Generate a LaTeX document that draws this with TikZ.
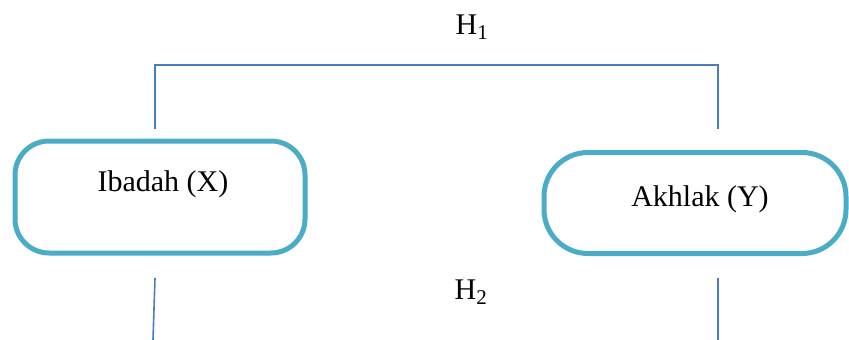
\documentclass[tikz,border=0pt]{standalone}
\usepackage{fontspec}
\setmainfont{Liberation Serif}
\definecolor{boxc}{HTML}{4BACC6}
\definecolor{linec}{HTML}{4A7EBB}
\tikzset{
  varbox/.style={draw=boxc, line width=5pt, fill=white, rectangle, inner sep=0pt},
  lbl/.style={inner sep=0pt, font=\fontsize{30}{36}\selectfont, text=black},
  conn/.style={draw=linec, line width=1.6pt},
}
\begin{document}
\begin{tikzpicture}[x=1pt,y=-1pt]
\useasboundingbox (0,0) rectangle (849,340);
% boxes
\node[varbox, rounded corners=34pt, minimum width=290pt, minimum height=112pt] (bx) at (160,197) {};
\node[varbox, rounded corners=44pt, minimum width=302pt, minimum height=101pt] (by) at (695,203) {};
\node[lbl] (tx) at (163,184) {Ibadah (X)};
\node[lbl] (ty) at (700,199) {Akhlak (Y)};
% hypothesis labels
\node[lbl] (h1) at (472,27) {H\textsubscript{1}};
\node[lbl] (h2) at (471,292) {H\textsubscript{2}};
% connector H1
\coordinate (a1) at (155,129);
\coordinate (t1) at (155,65);
\coordinate (t2) at (718,65);
\coordinate (a2) at (718,129);
\draw[conn] (a1) -- (t1) -- (t2) -- (a2);
% connector H2 (continues below)
\coordinate (b1) at (155,278);
\coordinate (c1) at (153,340);
\coordinate (b2) at (718,278);
\coordinate (c2) at (718,340);
\draw[conn] (b1) -- (c1);
\draw[conn] (b2) -- (c2);
\end{tikzpicture}
\end{document}
